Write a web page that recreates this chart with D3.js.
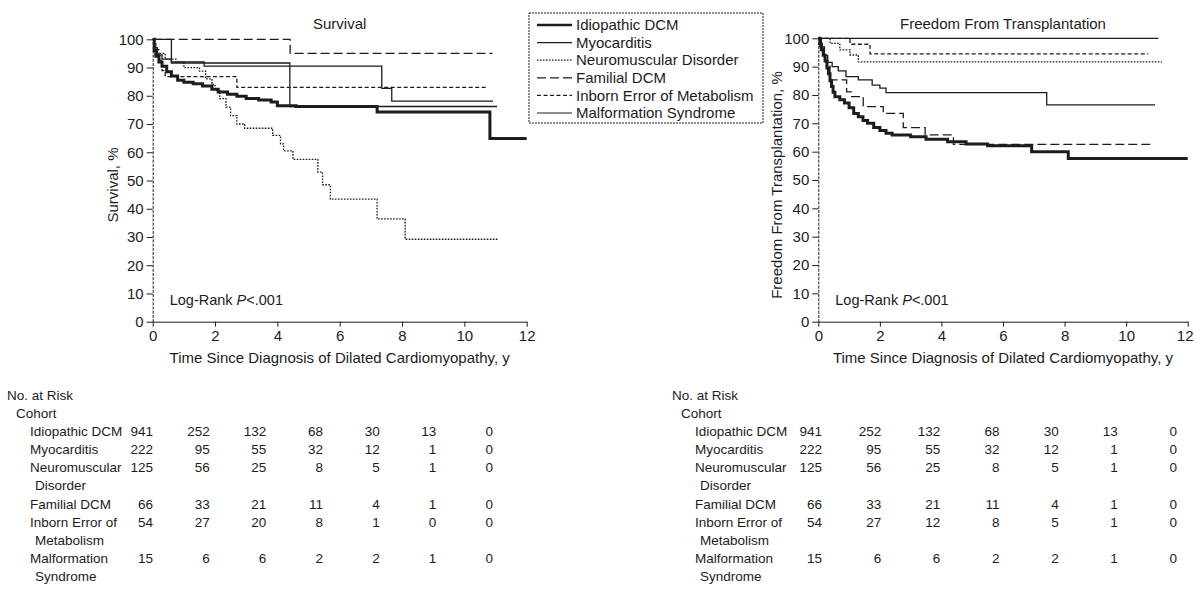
<!DOCTYPE html>
<html>
<head>
<meta charset="utf-8">
<script src="https://cdn.jsdelivr.net/npm/d3@7"></script>
<style>
  body { margin: 0; background: #fff; }
  svg { display: block; font-family: "Liberation Sans", Arial, Helvetica, sans-serif; }
</style>
</head>
<body>
<div id="chart"></div>
<script>
// ---- data ----
const cohorts = ["Idiopathic DCM", "Myocarditis", "Neuromuscular Disorder", "Familial DCM", "Inborn Error of Metabolism", "Malformation Syndrome"];
const cohortRowLabels = [["Idiopathic DCM"], ["Myocarditis"], ["Neuromuscular", "Disorder"], ["Familial DCM"], ["Inborn Error of", "Metabolism"], ["Malformation", "Syndrome"]];
const yearTicks = [0, 2, 4, 6, 8, 10, 12];
const percentTicks = [0, 10, 20, 30, 40, 50, 60, 70, 80, 90, 100];

// Survival curves: [years, %]
const survIdiopathic = [[0, 100], [0.05, 96], [0.1, 94], [0.2, 92], [0.3, 90.5], [0.45, 88.5], [0.6, 87], [0.8, 85.5], [1.0, 84.8], [1.3, 84.3], [1.6, 83.5], [1.9, 82.3], [2.1, 81.3], [2.4, 80.5], [2.7, 79.8], [3.0, 79.0], [3.4, 78.5], [3.8, 77.8], [4.0, 76.5], [4.6, 76.2], [7.2, 74.3], [10.82, 64.9], [12, 64.9]];
const survMyocarditis = [[0, 100], [0.05, 97], [0.15, 94.5], [0.3, 93], [0.6, 92], [1.65, 90.5], [7.35, 82.6], [7.67, 78.1], [10.92, 78.1]];
const survNeuromuscular = [[0, 100], [0.05, 97], [0.15, 95], [0.4, 93], [0.75, 92], [1.0, 90], [1.5, 88.7], [1.7, 86], [1.9, 84], [2.0, 82], [2.15, 79], [2.35, 76], [2.5, 73], [2.7, 70], [2.95, 68.5], [3.85, 66], [4.1, 63], [4.2, 60.5], [4.5, 57.5], [5.3, 53], [5.45, 48.5], [5.7, 43.4], [7.2, 36.4], [8.1, 29.2], [11.1, 29.2]];
const survFamilial = [[0, 100], [4.41, 95], [10.9, 95]];
const survInborn = [[0, 100], [0.1, 96.3], [0.2, 92.6], [0.3, 88.9], [0.4, 86.8], [2.7, 83], [10.7, 83]];
const survMalformation = [[0, 100], [0.6, 91.6], [4.4, 76.2], [11.05, 76.2]];

// Freedom from transplantation curves: [years, %]
const txIdiopathic = [[0, 100], [0.05, 98], [0.1, 96], [0.16, 94], [0.22, 92], [0.28, 89.5], [0.33, 87.5], [0.38, 85], [0.43, 83], [0.48, 81], [0.54, 79.4], [0.7, 78.3], [0.85, 77.2], [1.0, 75.5], [1.15, 73.5], [1.3, 72.3], [1.45, 71], [1.6, 70], [1.8, 68.5], [2.0, 67.5], [2.2, 66.5], [2.4, 65.9], [3.0, 65.3], [3.5, 64.4], [4.2, 63.5], [4.8, 62.7], [5.5, 62.1], [6.93, 60], [8.12, 57.6], [12, 57.6]];
const txMyocarditis = [[0, 100], [0.05, 97], [0.15, 94], [0.3, 91.5], [0.45, 90], [0.65, 88.5], [0.9, 86.5], [1.3, 85.3], [1.75, 83.5], [2.0, 82.4], [2.2, 80.8], [7.42, 76.5], [10.94, 76.5]];
const txNeuromuscular = [[0, 100], [0.38, 98.2], [0.7, 95.9], [1.03, 94.1], [1.3, 91.7], [11.16, 91.7]];
const txFamilial = [[0, 100], [0.1, 97], [0.2, 93.9], [0.3, 90.9], [0.38, 85.3], [0.92, 81.1], [1.08, 79.4], [1.46, 75.9], [2.11, 73.5], [2.76, 68.5], [3.47, 65.9], [4.39, 62.6], [10.83, 62.6]];
const txInborn = [[0, 100], [1.03, 97.9], [1.68, 94.5], [10.72, 94.5]];
const txMalformation = [[0, 100], [11.05, 100]];

// Numbers at risk, one row per cohort, one column per year tick
const riskSurvival = [
    [941, 252, 132, 68, 30, 13, 0],
    [222, 95, 55, 32, 12, 1, 0],
    [125, 56, 25, 8, 5, 1, 0],
    [66, 33, 21, 11, 4, 1, 0],
    [54, 27, 20, 8, 1, 0, 0],
    [15, 6, 6, 2, 2, 1, 0]
];
const riskTransplant = [
    [941, 252, 132, 68, 30, 13, 0],
    [222, 95, 55, 32, 12, 1, 0],
    [125, 56, 25, 8, 5, 1, 0],
    [66, 33, 21, 11, 4, 1, 0],
    [54, 27, 12, 8, 5, 1, 0],
    [15, 6, 6, 2, 2, 1, 0]
];

// ---- styles ----
const ink = "#1c1c1c";
const lineStyles = [
    { width: 3, dash: null },
    { width: 1.3, dash: null },
    { width: 1.3, dash: "1.6,1.4" },
    { width: 1.3, dash: "9,4" },
    { width: 1.3, dash: "4,2.5" },
    { width: 1.3, dash: null }
];

const width = 1194, height = 592;
const svg = d3.select("#chart")
    .append("svg")
    .attr("width", width)
    .attr("height", height)
    .attr("viewBox", [0, 0, width, height]);

svg.append("rect").attr("width", width).attr("height", height).attr("fill", "#fff");

function drawPanel(opts) {
    const x = d3.scaleLinear().domain([0, 12]).range(opts.xRange);
    const y = d3.scaleLinear().domain([0, 100]).range(opts.yRange);
    const g = svg.append("g");

    // Axes
    const yAxis = g.append("g")
        .attr("transform", `translate(${opts.xRange[0]},0)`)
        .call(d3.axisLeft(y).tickValues(percentTicks).tickSize(6).tickSizeOuter(0).tickPadding(3));
    const xAxis = g.append("g")
        .attr("transform", `translate(0,${opts.yRange[0]})`)
        .call(d3.axisBottom(x).tickValues(yearTicks).tickSize(5).tickSizeOuter(0).tickPadding(4));

    [yAxis, xAxis].forEach(a => {
        a.attr("font-family", null).attr("font-size", null);
        a.selectAll("text").attr("fill", ink).style("font-size", "15px");
        a.selectAll("line, path").attr("stroke", ink);
    });
    yAxis.select(".domain").attr("stroke-dasharray", "3,1.2");
    // keep the last year label inside the page
    xAxis.selectAll(".tick text").filter(d => d === 12).attr("dx", opts.lastLabelShift || 0);

    // Title + axis labels
    g.append("text")
        .attr("x", (opts.xRange[0] + opts.xRange[1]) / 2)
        .attr("y", 24).attr("dy", "0.35em")
        .attr("text-anchor", "middle")
        .attr("fill", ink).style("font-size", "15px")
        .text(opts.title);

    g.append("text")
        .attr("transform", `translate(${opts.yLabelX},185) rotate(-90)`)
        .attr("dy", "0.35em")
        .attr("text-anchor", "middle")
        .attr("fill", ink).style("font-size", "15px")
        .text(opts.yLabel);

    g.append("text")
        .attr("x", (opts.xRange[0] + opts.xRange[1]) / 2)
        .attr("y", 358).attr("dy", "0.35em")
        .attr("text-anchor", "middle")
        .attr("fill", ink).style("font-size", "15px")
        .text("Time Since Diagnosis of Dilated Cardiomyopathy, y");

    const logRank = g.append("text")
        .attr("x", opts.xRange[0] + 17)
        .attr("y", 300).attr("dy", "0.35em")
        .attr("fill", ink).style("font-size", "14.5px");
    logRank.append("tspan").text("Log-Rank ");
    logRank.append("tspan").attr("font-style", "italic").text("P");
    logRank.append("tspan").text("<.001");

    // Step curves (draw thick idiopathic last so it sits on top)
    const line = d3.line()
        .x(d => x(d[0]))
        .y(d => y(d[1]))
        .curve(d3.curveStepAfter);

    const order = [5, 4, 3, 2, 1, 0];
    order.forEach(i => {
        g.append("path")
            .datum(opts.series[i])
            .attr("d", line)
            .attr("fill", "none")
            .attr("stroke", ink)
            .attr("stroke-width", lineStyles[i].width)
            .attr("stroke-dasharray", lineStyles[i].dash);
    });
}

drawPanel({
    title: "Survival",
    yLabel: "Survival, %",
    yLabelX: 113,
    xRange: [152.7, 526.7],
    yRange: [321.7, 39.3],
    series: [survIdiopathic, survMyocarditis, survNeuromuscular, survFamilial, survInborn, survMalformation]
});

drawPanel({
    title: "Freedom From Transplantation",
    yLabel: "Freedom From Transplantation, %",
    yLabelX: 777,
    xRange: [818.3, 1187.7],
    yRange: [321.7, 38.3],
    lastLabelShift: -3,
    series: [txIdiopathic, txMyocarditis, txNeuromuscular, txFamilial, txInborn, txMalformation]
});

// Legend
const legend = svg.append("g").attr("transform", "translate(529,13)");
legend.append("rect")
    .attr("width", 234).attr("height", 110)
    .attr("fill", "#fff")
    .attr("stroke", ink).attr("stroke-width", 1)
    .attr("stroke-dasharray", "2,1");

const legendY = d3.scalePoint().domain(cohorts).range([12, 100]);
cohorts.forEach((name, i) => {
    legend.append("line")
        .attr("x1", 8).attr("x2", 43)
        .attr("y1", legendY(name)).attr("y2", legendY(name))
        .attr("stroke", ink)
        .attr("stroke-width", lineStyles[i].width === 3 ? 2.4 : 1.2)
        .attr("stroke-dasharray", lineStyles[i].dash);
    legend.append("text")
        .attr("x", 47).attr("y", legendY(name)).attr("dy", "0.35em")
        .attr("fill", ink).style("font-size", "15px")
        .text(name);
});

// Numbers-at-risk tables
function drawRiskTable(opts) {
    const g = svg.append("g").attr("fill", ink).style("font-size", "13.5px");
    const col = d3.scalePoint().domain(yearTicks).range(opts.colRange);
    const rowY = i => 431 + 18.2 * i;

    g.append("text").attr("x", opts.x0).attr("y", 395).attr("dy", "0.35em").text("No. at Risk");
    g.append("text").attr("x", opts.x0 + 9).attr("y", 413).attr("dy", "0.35em").text("Cohort");

    let line = 0;
    cohortRowLabels.forEach((labels, r) => {
        labels.forEach((lab, k) => {
            g.append("text")
                .attr("x", opts.x0 + (k === 0 ? 23 : 28))
                .attr("y", rowY(line + k)).attr("dy", "0.35em")
                .text(lab);
        });
        opts.counts[r].forEach((n, c) => {
            g.append("text")
                .attr("x", col(yearTicks[c]))
                .attr("y", rowY(line)).attr("dy", "0.35em")
                .attr("text-anchor", "end")
                .text(n);
        });
        line += labels.length;
    });
}

drawRiskTable({ x0: 7, colRange: [153, 493], counts: riskSurvival });
drawRiskTable({ x0: 672, colRange: [822, 1177], counts: riskTransplant });
</script>
</body>
</html>
